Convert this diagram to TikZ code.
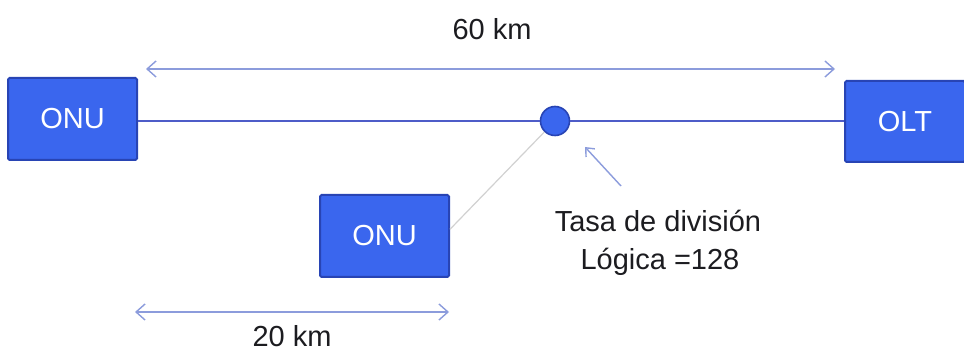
\documentclass[tikz,border=0pt]{standalone}
\usepackage{fontspec}
\setmainfont{Liberation Sans}
\usetikzlibrary{arrows.meta,calc}
\definecolor{boxfill}{RGB}{58,102,238}
\definecolor{boxdraw}{RGB}{40,68,180}
\definecolor{linkc}{RGB}{78,92,200}
\definecolor{dimc}{RGB}{140,156,220}
\definecolor{txtc}{RGB}{28,28,32}
\tikzset{
  unit/.style={draw=boxdraw, fill=boxfill, line width=2pt, rounded corners=1.5pt, text=white, font=\fontsize{29}{32}\selectfont, inner sep=0pt},
  link/.style={draw=linkc, line width=1.6pt},
  dim/.style={draw=dimc, line width=1.4pt, {Straight Barb[length=9pt,width=16pt]}-{Straight Barb[length=9pt,width=16pt]}},
  lbl/.style={text=txtc, font=\fontsize{29}{38}\selectfont, inner sep=0pt, anchor=base}
}
\begin{document}
\begin{tikzpicture}[x=1pt,y=-1pt]
\useasboundingbox (0,0) rectangle (964,352);
\node[unit, minimum width=129pt, minimum height=82pt] (onuL) at (72.5,119) {ONU};
\node[unit, minimum width=120pt, minimum height=81pt] (olt) at (905,121.5) {OLT};
\node[unit, minimum width=129pt, minimum height=82pt] (onuM) at (384.5,236) {ONU};
\node[circle, draw=boxdraw, fill=boxfill, line width=1.6pt, minimum size=29pt, inner sep=0pt] (split) at (555,121) {};
\draw[link] (onuL.east |- split) -- (split);
\draw[link] (split) -- (olt.west |- split);
\draw[draw=black!18, line width=1.2pt] (split) -- ($(onuM.north east)!0.42!(onuM.south east)$);
\coordinate (t60a) at (146,69);
\coordinate (t60b) at (835,69);
\draw[dim] (t60a) -- (t60b);
\coordinate (t20a) at (135,312);
\coordinate (t20b) at (449,312);
\draw[dim] (t20a) -- (t20b);
\node[lbl] (l60) at (492,40) {60 km};
\node[lbl] (l20) at (292,347) {20 km};
\node[lbl] (tasa) at (658,232) {Tasa de división};
\node[lbl] (logica) at (660,270) {Lógica =128};
\coordinate (ptail) at (621,186);
\coordinate (ptip) at (585,147);
\draw[draw=dimc, line width=1.4pt, -{Straight Barb[length=7pt,width=12pt]}] (ptail) -- (ptip);
\end{tikzpicture}
\end{document}
